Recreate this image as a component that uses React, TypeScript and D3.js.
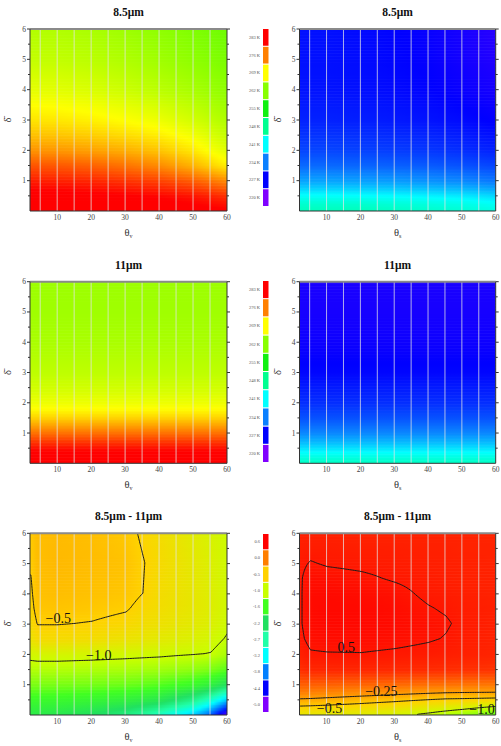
import React from "react";
import * as d3 from "d3";

// ---- brightness temperature fields (K), rows follow the delta grid, columns the theta grid ----
const thetaBt85 = [2, 10, 20, 30, 40, 50, 60];
const deltaBt85 = [0, 0.5, 1, 1.5, 2, 2.5, 3, 4, 5, 6];
const bt85View = [
  [285, 285, 285, 284.8, 284.5, 284, 283.5],
  [284, 284, 283.6, 283.3, 282.8, 282, 280.5],
  [281.5, 281.3, 281, 280.3, 279.5, 278, 275.5],
  [278.5, 278.3, 277.8, 276.8, 275.5, 273.3, 270],
  [275, 274.8, 274.3, 273.5, 272.3, 270.3, 267.2],
  [272.5, 272.3, 271.8, 271, 270, 268.3, 265.6],
  [270.5, 270.3, 269.8, 269, 268, 266.4, 264.3],
  [267.5, 267.3, 266.8, 266, 265, 263.9, 262.4],
  [265.5, 265.4, 265, 264.3, 263.4, 262.4, 261.2],
  [264.5, 264.4, 264, 263.3, 262.4, 261.5, 260.5],
];

const thetaBt85Sun = [2, 10, 20, 30, 40, 50, 60];
const deltaBt85Sun = [0, 0.25, 0.5, 0.75, 1, 1.5, 2, 3, 4, 5, 6];
const bt85Sun = [
  [245.5, 245.5, 245.5, 245, 244.5, 244, 243],
  [244, 244, 244, 243.5, 243, 242.5, 241.5],
  [241.5, 241.5, 241.3, 241, 240.5, 240, 239],
  [238.5, 238.5, 238.3, 238, 237.5, 237, 236],
  [236, 236, 235.8, 235.5, 235, 234.5, 233.5],
  [232.8, 232.8, 232.6, 232.3, 232, 231.5, 230.8],
  [230.8, 230.8, 230.6, 230.3, 230, 229.5, 228.8],
  [228.8, 228.8, 228.6, 228.3, 228, 227.5, 226.8],
  [228, 228, 227.8, 227.5, 227.1, 226.5, 225.8],
  [227.8, 227.8, 227.6, 227.2, 226.8, 226, 225.2],
  [227.8, 227.8, 227.5, 227.1, 226.6, 225.8, 224.8],
];

const thetaBt11 = [2, 60];
const deltaBt11 = [0, 0.25, 0.5, 0.75, 1, 1.25, 1.5, 1.75, 2, 2.5, 3, 4, 5, 6];
const bt11View = [
  [285, 285],
  [284, 284],
  [282.3, 282.3],
  [279.8, 279.8],
  [277, 277],
  [274.3, 274.3],
  [271.6, 271.6],
  [269.5, 269.5],
  [268, 268],
  [266.3, 266.3],
  [265.2, 265.2],
  [264, 264],
  [263.4, 263.4],
  [263.2, 263.2],
];

const thetaBt11Sun = [2, 60];
const deltaBt11Sun = [0, 0.25, 0.5, 0.75, 1, 1.5, 2, 3, 4, 5, 6];
const bt11Sun = [
  [245, 245],
  [242.5, 242.5],
  [239.5, 239.5],
  [236.8, 236.8],
  [234.5, 234.5],
  [231.5, 231.5],
  [229.5, 229.5],
  [227.3, 227.3],
  [226.3, 226.3],
  [225.8, 225.8],
  [225.6, 225.6],
];

// ---- brightness temperature difference 8.5 - 11 (K) ----
const thetaDiffView = [2, 4, 10, 20, 30, 35, 40, 50, 55, 60];
const deltaDiffView = [0, 0.5, 1, 1.5, 2, 2.5, 3, 3.5, 4, 5, 6];
const btdView = [
  [-2.0, -2.0, -2.05, -2.2, -2.45, -2.65, -2.9, -3.5, -4.0, -4.9],
  [-1.7, -1.7, -1.72, -1.78, -1.88, -1.96, -2.05, -2.5, -2.9, -3.5],
  [-1.35, -1.35, -1.36, -1.38, -1.42, -1.46, -1.52, -1.7, -1.88, -2.2],
  [-1.1, -1.1, -1.1, -1.12, -1.14, -1.16, -1.18, -1.26, -1.34, -1.5],
  [-0.92, -0.9, -0.9, -0.91, -0.93, -0.94, -0.95, -0.985, -1.01, -1.14],
  [-0.7, -0.6, -0.6, -0.62, -0.68, -0.72, -0.76, -0.84, -0.9, -1.03],
  [-0.6, -0.49, -0.49, -0.51, -0.56, -0.62, -0.66, -0.76, -0.82, -0.95],
  [-0.56, -0.43, -0.42, -0.44, -0.48, -0.56, -0.62, -0.73, -0.8, -0.93],
  [-0.53, -0.4, -0.38, -0.4, -0.43, -0.5, -0.6, -0.72, -0.8, -0.92],
  [-0.48, -0.38, -0.35, -0.37, -0.4, -0.49, -0.58, -0.74, -0.82, -0.94],
  [-0.46, -0.38, -0.36, -0.38, -0.44, -0.53, -0.6, -0.78, -0.86, -0.96],
];

const thetaDiffSun = [2, 5, 10, 20, 30, 40, 45, 50, 60];
const deltaDiffSun = [0, 0.25, 0.5, 0.75, 1, 1.5, 2, 2.5, 3, 3.5, 4, 4.5, 5, 5.5, 6];
const btdSun = [
  [-0.75, -0.76, -0.78, -0.82, -0.9, -1.05, -1.15, -1.25, -1.5],
  [-0.52, -0.53, -0.55, -0.6, -0.66, -0.75, -0.8, -0.86, -1.02],
  [-0.26, -0.27, -0.3, -0.36, -0.42, -0.48, -0.51, -0.52, -0.55],
  [0.0, -0.01, -0.03, -0.08, -0.13, -0.18, -0.2, -0.21, -0.22],
  [0.15, 0.15, 0.14, 0.12, 0.1, 0.07, 0.06, 0.05, 0.03],
  [0.38, 0.42, 0.42, 0.42, 0.41, 0.4, 0.39, 0.38, 0.36],
  [0.45, 0.49, 0.495, 0.497, 0.485, 0.47, 0.46, 0.45, 0.43],
  [0.48, 0.53, 0.54, 0.54, 0.53, 0.51, 0.495, 0.47, 0.44],
  [0.49, 0.55, 0.56, 0.56, 0.55, 0.525, 0.51, 0.48, 0.45],
  [0.49, 0.55, 0.56, 0.56, 0.545, 0.505, 0.49, 0.47, 0.45],
  [0.49, 0.55, 0.555, 0.545, 0.525, 0.48, 0.47, 0.46, 0.44],
  [0.49, 0.54, 0.53, 0.515, 0.49, 0.47, 0.46, 0.45, 0.44],
  [0.48, 0.505, 0.49, 0.48, 0.47, 0.46, 0.455, 0.45, 0.44],
  [0.46, 0.47, 0.47, 0.46, 0.46, 0.45, 0.45, 0.44, 0.44],
  [0.45, 0.45, 0.45, 0.44, 0.44, 0.44, 0.44, 0.44, 0.43],
];

// contour levels and their labels (theta, delta of the label's left baseline)
const levelsDiffView = [-0.5, -1.0];
const labelsDiffView = [
  { text: "\u22120.5", theta: 6.6, delta: 3.05 },
  { text: "\u22121.0", theta: 18.5, delta: 1.8 },
];
const levelsDiffSun = [0.5, -0.25, -0.5, -1.0];
const labelsDiffSun = [
  { text: "0.5", theta: 13.2, delta: 2.08 },
  { text: "\u22120.25", theta: 21.4, delta: 0.64 },
  { text: "\u22120.5", theta: 7.1, delta: 0.06 },
  { text: "\u22121.0", theta: 52.2, delta: 0.04 },
];

// ---- colour keys ----
const tempKeyValues = [283, 276, 269, 262, 255, 248, 241, 234, 227, 220];
const tempKeyLabels = ["283 K", "276 K", "269 K", "262 K", "255 K", "248 K", "241 K", "234 K", "227 K", "220 K"];
const tempKeyColors = ["#ff0000", "#ff8000", "#ffff00", "#88ff00", "#10f010", "#00ff90", "#00ffff", "#0a80ff", "#0000ff", "#8000ff"];

const diffKeyValues = [0.6, 0.0, -0.5, -1.0, -1.6, -2.2, -2.7, -3.2, -3.8, -4.4, -5.0];
const diffKeyLabels = ["0.6", "0.0", "-0.5", "-1.0", "-1.6", "-2.2", "-2.7", "-3.2", "-3.8", "-4.4", "-5.0"];
const diffKeyColors = ["#ff0000", "#ff7f00", "#ffd200", "#c8ff00", "#40ff20", "#20e060", "#20ffa8", "#00ffff", "#0080ff", "#0000ff", "#8000ff"];

const thetaTicks = [10, 20, 30, 40, 50, 60];
const deltaTicks = [1, 2, 3, 4, 5, 6];
const deltaMinorTicks = [0.5, 1.5, 2.5, 3.5, 4.5, 5.5];
const guideThetas = [5, 10, 15, 20, 25, 30, 35, 40, 45, 50, 55];

const THETA_DOMAIN: [number, number] = [2, 60];
const DELTA_DOMAIN: [number, number] = [0, 6];
const FONT = "Liberation Serif, Times New Roman, Times, serif";

const tempColor = d3
  .scaleLinear<string>()
  .domain(tempKeyValues)
  .range(tempKeyColors)
  .interpolate(d3.interpolateRgb)
  .clamp(true);
const diffColor = d3
  .scaleLinear<string>()
  .domain(diffKeyValues)
  .range(diffKeyColors)
  .interpolate(d3.interpolateRgb)
  .clamp(true);

type Field = (t: number, d: number) => number;

function bilinear(xs: number[], ys: number[], grid: number[][]): Field {
  return (t, d) => {
    const x = Math.max(xs[0], Math.min(xs[xs.length - 1], t));
    const y = Math.max(ys[0], Math.min(ys[ys.length - 1], d));
    const i = Math.max(0, Math.min(xs.length - 2, d3.bisectRight(xs, x) - 1));
    const j = Math.max(0, Math.min(ys.length - 2, d3.bisectRight(ys, y) - 1));
    const tx = (x - xs[i]) / (xs[i + 1] - xs[i]);
    const ty = (y - ys[j]) / (ys[j + 1] - ys[j]);
    const a = grid[j][i] + (grid[j][i + 1] - grid[j][i]) * tx;
    const b = grid[j + 1][i] + (grid[j + 1][i + 1] - grid[j + 1][i]) * tx;
    return a + (b - a) * ty;
  };
}

interface PanelSpec {
  id: string;
  x0: number;
  x1: number;
  y0: number;
  y1: number;
  title: string;
  sub: string;
  field: Field;
  color: (v: number) => string;
  levels?: number[];
  labels?: { text: string; theta: number; delta: number }[];
}

const LEFT = [30, 227];
const RIGHT = [299.5, 495.7];
const ROWS = [
  [29, 211],
  [281.7, 463.3],
  [533.3, 715],
];

const panels: PanelSpec[] = [
  { id: "p1", x0: LEFT[0], x1: LEFT[1], y0: ROWS[0][0], y1: ROWS[0][1], title: "8.5\u03bcm", sub: "v", field: bilinear(thetaBt85, deltaBt85, bt85View), color: tempColor },
  { id: "p2", x0: RIGHT[0], x1: RIGHT[1], y0: ROWS[0][0], y1: ROWS[0][1], title: "8.5\u03bcm", sub: "s", field: bilinear(thetaBt85Sun, deltaBt85Sun, bt85Sun), color: tempColor },
  { id: "p3", x0: LEFT[0], x1: LEFT[1], y0: ROWS[1][0], y1: ROWS[1][1], title: "11\u03bcm", sub: "v", field: bilinear(thetaBt11, deltaBt11, bt11View), color: tempColor },
  { id: "p4", x0: RIGHT[0], x1: RIGHT[1], y0: ROWS[1][0], y1: ROWS[1][1], title: "11\u03bcm", sub: "s", field: bilinear(thetaBt11Sun, deltaBt11Sun, bt11Sun), color: tempColor },
  { id: "p5", x0: LEFT[0], x1: LEFT[1], y0: ROWS[2][0], y1: ROWS[2][1], title: "8.5\u03bcm - 11\u03bcm", sub: "v", field: bilinear(thetaDiffView, deltaDiffView, btdView), color: diffColor, levels: levelsDiffView, labels: labelsDiffView },
  { id: "p6", x0: RIGHT[0], x1: RIGHT[1], y0: ROWS[2][0], y1: ROWS[2][1], title: "8.5\u03bcm - 11\u03bcm", sub: "s", field: bilinear(thetaDiffSun, deltaDiffSun, btdSun), color: diffColor, levels: levelsDiffSun, labels: labelsDiffSun },
];

const keys = [
  { y0: 29, y1: 206, labels: tempKeyLabels, colors: tempKeyColors },
  { y0: 281, y1: 462, labels: tempKeyLabels, colors: tempKeyColors },
  { y0: 534, y1: 712, labels: diffKeyLabels, colors: diffKeyColors },
];

const ROW_STEP = 0.05;
const ROW_COUNT = 120;
const STOP_THETAS = d3.range(0, 30).map((k) => 2 + k * 2).concat([60]);

function Panel({ p }: { p: PanelSpec }) {
  const xs = d3.scaleLinear().domain(THETA_DOMAIN).range([p.x0, p.x1]);
  const ys = d3.scaleLinear().domain(DELTA_DOMAIN).range([p.y1, p.y0]);
  const rows = d3.range(ROW_COUNT).map((k) => k * ROW_STEP);

  let contourPaths: { value: number; d: string }[] = [];
  if (p.levels) {
    const pad = 2;
    const dt = 0.5;
    const nx = Math.round((THETA_DOMAIN[1] - THETA_DOMAIN[0]) / dt) + 1 + 2 * pad;
    const ny = ROW_COUNT + 1 + 2 * pad;
    const values = new Array(nx * ny);
    for (let j = 0; j < ny; j++) {
      for (let i = 0; i < nx; i++) {
        values[j * nx + i] = p.field(THETA_DOMAIN[0] + (i - pad) * dt, (j - pad) * ROW_STEP);
      }
    }
    const proj = d3.geoTransform({
      point(x: number, y: number) {
        (this as any).stream.point(xs(THETA_DOMAIN[0] + (x - pad) * dt), ys((y - pad) * ROW_STEP));
      },
    });
    const path = d3.geoPath(proj);
    const gen = d3.contours().size([nx, ny]).thresholds(p.levels);
    contourPaths = gen(values).map((c) => ({ value: c.value, d: path(c as any) || "" }));
  }

  const cx = (p.x0 + p.x1) / 2;
  return (
    <g>
      <defs>
        <clipPath id={`${p.id}-clip`}>
          <rect x={p.x0} y={p.y0} width={p.x1 - p.x0} height={p.y1 - p.y0} />
        </clipPath>
        {rows.map((d, r) => (
          <linearGradient key={r} id={`${p.id}-g${r}`} gradientUnits="userSpaceOnUse" x1={xs(2)} x2={xs(60)} y1={0} y2={0}>
            {STOP_THETAS.map((t) => (
              <stop key={t} offset={(t - 2) / 58} stopColor={p.color(p.field(t, d + ROW_STEP / 2))} />
            ))}
          </linearGradient>
        ))}
      </defs>
      <g clipPath={`url(#${p.id}-clip)`}>
        {rows.map((d, r) => (
          <rect
            key={r}
            x={p.x0}
            y={ys(d + ROW_STEP)}
            width={p.x1 - p.x0}
            height={ys(d) - ys(d + ROW_STEP) + 0.6}
            fill={`url(#${p.id}-g${r})`}
          />
        ))}
        {guideThetas.map((t) => (
          <line key={t} x1={xs(t)} x2={xs(t)} y1={p.y0} y2={p.y1} stroke="#e4e4e4" strokeOpacity={0.75} strokeWidth={1} />
        ))}
        {contourPaths.map((c, k) => (
          <path key={k} d={c.d} fill="none" stroke="#1a1a1a" strokeWidth={1} />
        ))}
        {(p.labels || []).map((l, k) => (
          <text key={k} x={xs(l.theta)} y={ys(l.delta)} fontFamily={FONT} fontSize={14} fill="#111">
            {l.text}
          </text>
        ))}
      </g>
      {/* frame */}
      <line x1={p.x0} x2={p.x1} y1={p.y0} y2={p.y0} stroke="#8a8a8a" strokeWidth={2} />
      <line x1={p.x0} x2={p.x1} y1={p.y1} y2={p.y1} stroke="#333" strokeWidth={1} />
      <line x1={p.x0} x2={p.x0} y1={p.y0} y2={p.y1} stroke="#333" strokeWidth={1} />
      <line x1={p.x1} x2={p.x1} y1={p.y0} y2={p.y1} stroke="#333" strokeWidth={1} />
      {/* delta ticks on both sides */}
      {deltaTicks.map((d) => (
        <g key={d}>
          <line x1={p.x0 - 3} x2={p.x0} y1={ys(d)} y2={ys(d)} stroke="#333" />
          <line x1={p.x1} x2={p.x1 + 3} y1={ys(d)} y2={ys(d)} stroke="#333" />
          <text x={p.x0 - 4} y={ys(d) + 2.5} textAnchor="end" fontFamily={FONT} fontSize={7.5} fill="#444">
            {d}
          </text>
        </g>
      ))}
      {deltaMinorTicks.map((d) => (
        <g key={d}>
          <line x1={p.x0 - 2} x2={p.x0} y1={ys(d)} y2={ys(d)} stroke="#333" />
          <line x1={p.x1} x2={p.x1 + 2} y1={ys(d)} y2={ys(d)} stroke="#333" />
        </g>
      ))}
      {thetaTicks.map((t) => (
        <text key={t} x={xs(t)} y={p.y1 + 8.5} textAnchor="middle" fontFamily={FONT} fontSize={7.5} fill="#444">
          {t}
        </text>
      ))}
      <text x={cx} y={p.y0 - 13} textAnchor="middle" fontFamily={FONT} fontSize={11.5} fontWeight="bold" fill="#111">
        {p.title}
      </text>
      <text x={cx} y={p.y1 + 25} textAnchor="middle" fontFamily={FONT} fontSize={10.5} fill="#333">
        {"\u03b8"}
        <tspan fontSize={6} dy={2}>
          {p.sub}
        </tspan>
      </text>
      <text
        transform={`translate(${p.x0 - 19},${(p.y0 + p.y1) / 2}) rotate(-90)`}
        textAnchor="middle"
        fontFamily={FONT}
        fontSize={10.5}
        fill="#333"
      >
        {"\u03b4\u0304"}
      </text>
    </g>
  );
}

function ColorKey({ k }: { k: (typeof keys)[number] }) {
  const band = d3
    .scaleBand<number>()
    .domain(d3.range(k.colors.length))
    .range([k.y0, k.y1])
    .paddingInner(0.06);
  return (
    <g>
      {k.colors.map((c, i) => (
        <g key={i}>
          <rect x={263} y={band(i)} width={5.5} height={band.bandwidth()} fill={c} />
          <text
            x={260}
            y={(band(i) as number) + band.bandwidth() / 2 + 1.5}
            textAnchor="end"
            fontFamily={FONT}
            fontSize={4.5}
            fill="#555"
          >
            {k.labels[i]}
          </text>
        </g>
      ))}
    </g>
  );
}

export default function App() {
  return (
    <svg
      width={501}
      height={746}
      viewBox="0 0 501 746"
      style={{ position: "absolute", left: 0, top: 0, background: "#fff" }}
    >
      <rect width={501} height={746} fill="#fff" />
      {panels.map((p) => (
        <Panel key={p.id} p={p} />
      ))}
      {keys.map((k, i) => (
        <ColorKey key={i} k={k} />
      ))}
    </svg>
  );
}
